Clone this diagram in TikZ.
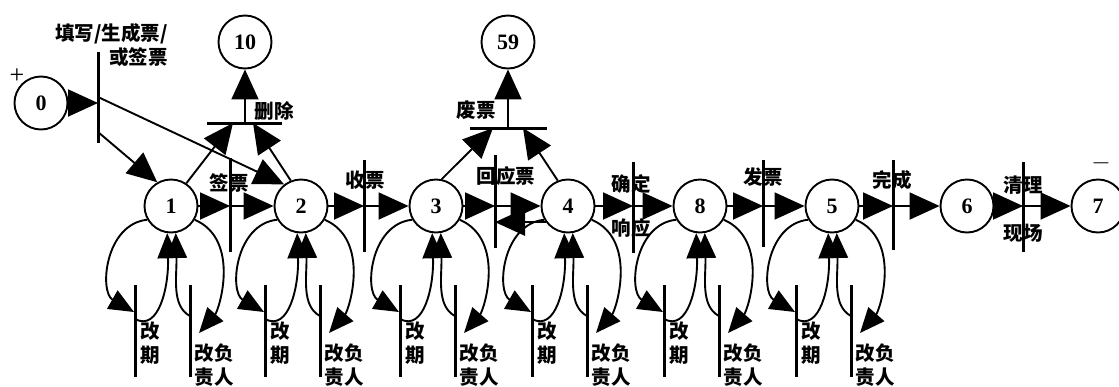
\documentclass[tikz,border=0pt]{standalone}
\usepackage{fontspec}
\setmainfont{Liberation Serif}
\newfontfamily\cjk{Noto Sans CJK SC}
\usetikzlibrary{arrows.meta}
\tikzset{
  place/.style={circle, draw, line width=1.9pt, minimum size=53pt, inner sep=0pt,
    font=\bfseries\fontsize{22}{22}\selectfont},
  arc/.style={line width=1.9pt, -{Triangle[length=30pt,width=27pt]}},
  larc/.style={line width=1.9pt, -{Triangle[length=25pt,width=21pt]}},
  bar/.style={line width=3pt},
  lab/.style={font=\cjk\bfseries\fontsize{19.5}{24}\selectfont, inner sep=0pt},
}
\begin{document}
\begin{tikzpicture}[x=1pt,y=-1pt]
\useasboundingbox (0,0) rectangle (1119,386);
% places
\node[place] (p0) at (41,103) {0};
\node[place] (p10) at (245,42) {10};
\node[place] (p59) at (508,42) {59};
\node[place] (p1) at (171,206) {1};
\node[place] (p2) at (301,206) {2};
\node[place] (p3) at (436,206) {3};
\node[place] (p4) at (568,206) {4};
\node[place] (p8) at (700,206) {8};
\node[place] (p5) at (832,206) {5};
\node[place] (p6) at (967,206) {6};
\node[place] (p7) at (1098,206) {7};
\node[font=\fontsize{26}{26}\selectfont, inner sep=0pt] (plus) at (17,76) {+};
\node[font=\fontsize{24}{24}\selectfont, inner sep=0pt] (minus) at (1101,163) {$-$};
% labels
\node[lab, align=right, anchor=east] (lfill) at (168,45) {填写/生成票/\\或签票};
\node[lab] (ldel) at (274,111) {删除};
\node[lab] (lsign) at (229,183) {签票};
\node[lab] (lrecv) at (365,180) {收票};
\node[lab] (lresp) at (506,176) {回应票};
\node[lab] (lvoid) at (476,110) {废票};
\node[lab] (lconf) at (631,184) {确定};
\node[lab] (lconf2) at (631,228) {响应};
\node[lab] (lissue) at (763,177) {发票};
\node[lab] (ldone) at (892,180) {完成};
\node[lab] (lclean) at (1023,185) {清理};
\node[lab] (lclean2) at (1023,233) {现场};
% transitions (bars)
\coordinate (tf1) at (98,52); \coordinate (tf2) at (98,143);
\coordinate (tfa) at (98,97); \coordinate (tfin) at (98,103); \coordinate (tfb) at (98,132);
\draw[bar] (tf1) -- (tf2);
\coordinate (td1) at (207,123); \coordinate (td2) at (282,123);
\coordinate (tda) at (233,123); \coordinate (tdb) at (253,123); \coordinate (tdo) at (245,123);
\draw[bar] (td1) -- (td2);
\coordinate (tw1) at (470,128); \coordinate (tw2) at (547,128);
\coordinate (twa) at (493,128); \coordinate (twb) at (523,128); \coordinate (two) at (508,128);
\draw[bar] (tw1) -- (tw2);
\coordinate (ts) at (230,206); \draw[bar] (230,158) -- (230,252);
\coordinate (tr) at (364,206); \draw[bar] (364,160) -- (364,252);
\coordinate (tp) at (495,206); \draw[bar] (495,155) -- (495,248);
\coordinate (tc) at (633,206); \draw[bar] (633,162) -- (633,253);
\coordinate (ti) at (763,206); \draw[bar] (763,160) -- (763,247);
\coordinate (tn) at (893,206); \draw[bar] (893,160) -- (893,250);
\coordinate (tl) at (1023,206); \draw[bar] (1023,162) -- (1023,252);
% arcs
\draw[arc] (p0) -- (tfin);
\draw[arc] (tfb) -- (p1.120);
\draw[arc] (tfa) -- (p2.128);
\draw[arc] (p1.56) -- (tda);
\draw[arc] (p2.112) -- (tdb);
\draw[arc] (tdo) -- (p10);
\draw[arc] (p3.78) -- (twa);
\draw[arc] (p4.112) -- (twb);
\draw[arc] (two) -- (p59);
\draw[arc] (p1) -- (ts); \draw[arc] (ts) -- (p2);
\draw[arc] (p2) -- (tr); \draw[arc] (tr) -- (p3);
\draw[arc] (p3) -- (tp); \draw[arc] (tp) -- (p4);
\draw[arc] (p4.216) -- (p4.216 -| tp);
\draw[arc] (p4) -- (tc); \draw[arc] (tc) -- (p8);
\draw[arc] (p8) -- (ti); \draw[arc] (ti) -- (p5);
\draw[arc] (p5) -- (tn); \draw[arc] (tn) -- (p6);
\draw[arc] (p6) -- (tl); \draw[arc] (tl) -- (p7);
% self loops
\foreach \n in {1,2,3,4,8,5}{
  \begin{scope}[shift={(p\n.center)}]
    \coordinate (q\n a) at (-36,79); \coordinate (q\n b) at (-36,171);
    \coordinate (q\n c) at (19,79); \coordinate (q\n d) at (19,171);
    \draw[bar] (q\n a) -- (q\n b);
    \draw[bar] (q\n c) -- (q\n d);
    \coordinate (q\n in) at (-37,106); \coordinate (q\n out) at (-36,113);
    \coordinate (r\n in) at (28,127); \coordinate (r\n out) at (19,110);
    \draw[larc] (p\n.210) .. controls (-66,18) and (-72,86) .. (q\n in);
    \draw[larc] (q\n out) .. controls (-12,126) and (-2,80) .. (p\n.262);
    \draw[larc] (p\n.330) .. controls (70,34) and (48,104) .. (r\n in);
    \draw[larc] (r\n out) .. controls (0,100) and (6,70) .. (p\n.280);
    \node[lab, align=center] (g\n) at (-21,137) {改\\期};
    \node[lab, align=center] (h\n) at (43,159) {改负\\责人};
  \end{scope}
}
\end{tikzpicture}
\end{document}
